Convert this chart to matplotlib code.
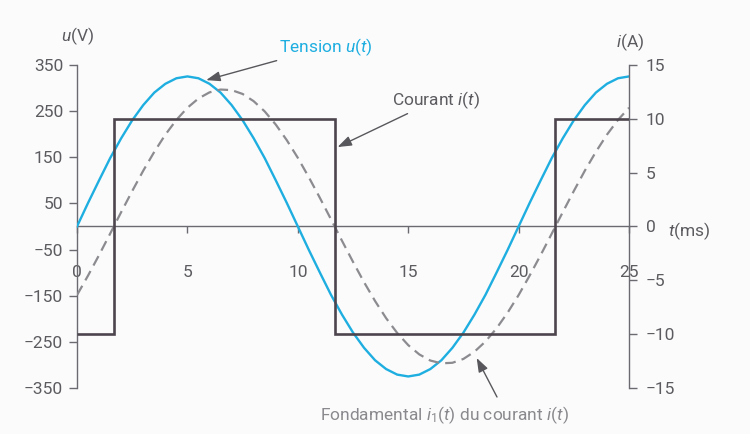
import numpy as np
import matplotlib.pyplot as plt

plt.rcParams['font.family'] = ['Roboto', 'DejaVu Sans']
plt.rcParams['mathtext.fontset'] = 'custom'
plt.rcParams['mathtext.rm'] = 'Roboto'
plt.rcParams['mathtext.it'] = 'Roboto:italic'

# temps en ms, un point toutes les 0,5 ms
t_ms = np.linspace(0, 25, 51)

# tension u(t) en V
u_V = [0, 51, 100, 148, 191, 230, 263, 290, 309, 321, 325,
       321, 309, 290, 263, 230, 191, 148, 100, 51, 0,
       -51, -100, -148, -191, -230, -263, -290, -309, -321, -325,
       -321, -309, -290, -263, -230, -191, -148, -100, -51, 0,
       51, 100, 148, 191, 230, 263, 290, 309, 321, 325]

# fondamental i1(t) du courant en A
i1_A = [-6.37, -4.56, -2.65, -0.67, 1.33, 3.29, 5.18, 6.93, 8.52, 9.89, 11.02,
        11.88, 12.45, 12.71, 12.66, 12.30, 11.63, 10.68, 9.46, 8.01, 6.37,
        4.56, 2.65, 0.67, -1.33, -3.29, -5.18, -6.93, -8.52, -9.89, -11.02,
        -11.88, -12.45, -12.71, -12.66, -12.30, -11.63, -10.68, -9.46, -8.01, -6.37,
        -4.56, -2.65, -0.67, 1.33, 3.29, 5.18, 6.93, 8.52, 9.89, 11.02]

# courant créneau i(t) : instants de commutation (ms) et niveaux (A)
t_comm = [0, 1.67, 11.67, 21.67, 25]
i_niv = [-10, 10, -10, 10]

u_ticks = [-350, -250, -150, -50, 50, 150, 250, 350]
i_ticks = [-15, -10, -5, 0, 5, 10, 15]
t_ticks = [0, 5, 10, 15, 20, 25]

bleu = '#1eaee0'
gris_axe = '#6a6a70'
gris_txt = '#5c5c60'

fig = plt.figure(figsize=(7.5, 4.34), dpi=100, facecolor='#fbfbfc')
ax = fig.add_axes([0.1027, 0.106, 0.736, 0.7445])
ax.set_facecolor('none')
ax2 = ax.twinx()

ax.set_xlim(0, 25)
ax.set_ylim(-350, 350)
ax2.set_ylim(-15, 15)

ax.plot(t_ms, u_V, color=bleu, lw=1.7, zorder=3)
ax2.stairs(i_niv, t_comm, baseline=None, color='#4d454d', lw=1.9, zorder=3)
ax2.plot(t_ms, i1_A, color='#8c8c90', lw=1.6, dashes=(4.8, 2.8), zorder=2)

# axes
for s in ['top', 'right']:
    ax.spines[s].set_visible(False)
ax.spines['bottom'].set_position(('data', 0))
for s in ['left', 'bottom']:
    ax.spines[s].set_color(gris_axe)
    ax.spines[s].set_linewidth(1.0)
for s in ['top', 'left', 'bottom']:
    ax2.spines[s].set_visible(False)
ax2.spines['right'].set_color(gris_axe)
ax2.spines['right'].set_linewidth(1.0)

ax.set_yticks(u_ticks)
ax.set_xticks(t_ticks)
ax2.set_yticks(i_ticks)
ax.tick_params(axis='y', direction='out', length=6, width=1, color=gris_axe,
               labelcolor=gris_txt, labelsize=12.5, pad=4)
ax.tick_params(axis='x', direction='out', length=5, width=1, color=gris_axe,
               labelcolor=gris_txt, labelsize=12.5, pad=23)
ax2.tick_params(axis='y', direction='out', length=6, width=1, color=gris_axe,
                labelcolor=gris_txt, labelsize=12.5, pad=6)

# titres des axes
fig.text(78 / 750, 1 - 36 / 434, r'$u$(V)', color=gris_txt, fontsize=12.5,
         ha='center', va='center')
fig.text(630 / 750, 1 - 42 / 434, r'$i$(A)', color=gris_txt, fontsize=12.5,
         ha='center', va='center')
fig.text(668 / 750, 1 - 231 / 434, r'$t$(ms)', color=gris_txt, fontsize=12.5,
         ha='left', va='center')

# légendes fléchées
fleche = dict(arrowstyle='-|>,head_length=0.7,head_width=0.25',
              color='#58585c', lw=1.0, mutation_scale=12,
              shrinkA=0, shrinkB=0)
ax.annotate(r'Tension $u$($t$)', xy=(5.85, 317), xycoords='data',
            xytext=(279 / 750, 1 - 47 / 434), textcoords='figure fraction',
            color=bleu, fontsize=12.5, ha='left', va='center',
            arrowprops=fleche)
ax.annotate(r'Courant $i$($t$)', xy=(11.8, 172), xycoords='data',
            xytext=(392 / 750, 1 - 100 / 434), textcoords='figure fraction',
            color=gris_txt, fontsize=12.5, ha='left', va='center',
            arrowprops=fleche)
ax.annotate('', xy=(18.1, -285), xycoords='data',
            xytext=(497 / 750, 1 - 397 / 434), textcoords='figure fraction',
            arrowprops=fleche)
fig.text(320 / 750, 1 - 415 / 434,
         r'Fondamental $i_1$($t$) du courant $i$($t$)',
         color='#8a8a8e', fontsize=12.5, ha='left', va='center')

fig.savefig('out.png', dpi=100, facecolor=fig.get_facecolor())
